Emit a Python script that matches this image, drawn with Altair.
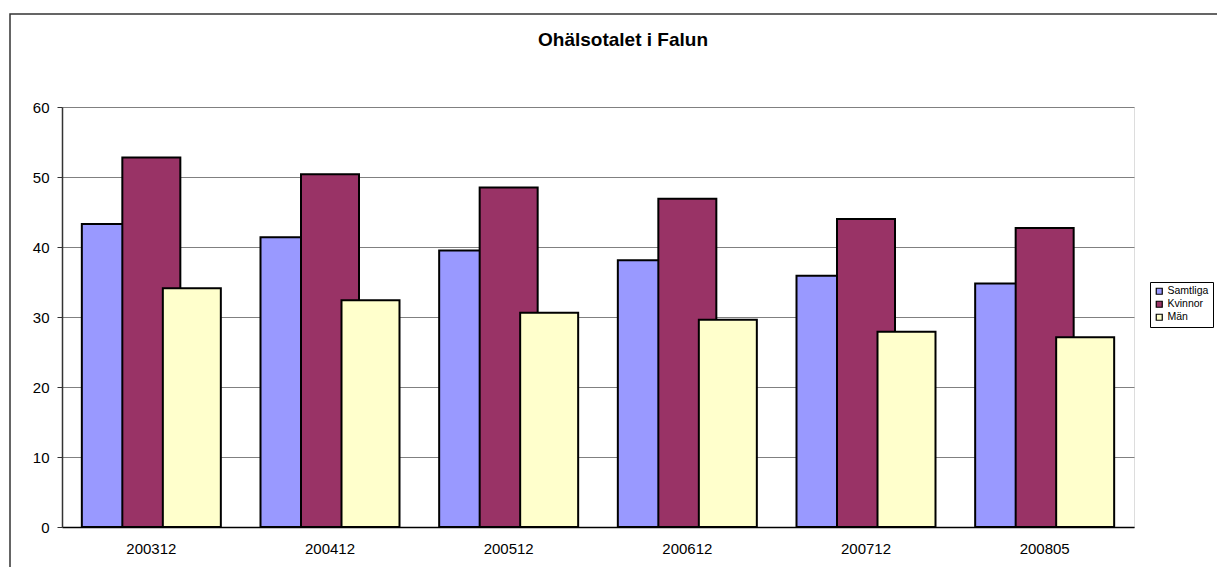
import altair as alt
import pandas as pd

periods = ["200312", "200412", "200512", "200612", "200712", "200805"]
series = ["Samtliga", "Kvinnor", "Män"]
samtliga = [43.3, 41.4, 39.5, 38.1, 35.9, 34.8]
kvinnor = [52.8, 50.4, 48.5, 46.9, 44.0, 42.7]
man = [34.1, 32.4, 30.6, 29.6, 27.9, 27.1]
colors = ["#9999FF", "#993366", "#FFFFCC"]

rows = []
for name, vals in zip(series, [samtliga, kvinnor, man]):
    for p, v in zip(periods, vals):
        rows.append({"period": p, "serie": name, "value": v})
df = pd.DataFrame(rows)

FONT = "Liberation Sans"

base = alt.Chart(df)

color = alt.Color(
    "serie:N",
    scale=alt.Scale(domain=series, range=colors),
    legend=alt.Legend(
        title=None, orient="none", legendX=1088, legendY=175,
        strokeColor="#000000", padding=4, symbolType="square",
        symbolSize=36, symbolStrokeColor="#000000", symbolStrokeWidth=1.2,
        labelFontSize=10.5, labelFont=FONT, labelColor="#000000",
        rowPadding=1, symbolOffset=0, labelOffset=3, fillColor="#FFFFFF",
    ),
)
x = alt.X(
    "period:N", sort=periods, title=None,
    scale=alt.Scale(paddingInner=0, paddingOuter=0),
    axis=alt.Axis(labelAngle=0, ticks=False, labelPadding=14, labelFontSize=15,
                  labelFont=FONT, labelColor="#000000", domainColor="#000000",
                  domainWidth=1.5),
)
y = alt.Y(
    "value:Q", title=None,
    scale=alt.Scale(domain=[0, 60], nice=False),
    axis=alt.Axis(values=[0, 10, 20, 30, 40, 50, 60], tickSize=5, tickColor="#333333",
                  labelPadding=8, labelFontSize=15, labelFont=FONT, labelColor="#000000",
                  domainColor="#333333", domainWidth=1.5, grid=True,
                  gridColor="#808080", gridWidth=1.2),
)

offsets = [-40.5, 0, 40.5]
layers = []
frame = base.mark_rect(fill=None, stroke="#333333", strokeWidth=1.5).encode(
    x=alt.value(-52), x2=alt.value(1300), y=alt.value(-93), y2=alt.value(600)
).transform_filter("datum.serie == 'Samtliga' && datum.period == '200312'")
layers.append(frame)
for s, off in zip(series, offsets):
    layers.append(
        base.transform_filter(alt.datum.serie == s)
        .mark_bar(width=58, xOffset=off, stroke="#000000", strokeWidth=2)
        .encode(x=x, y=y, color=color)
    )

chart = alt.layer(*layers).properties(
    width=1072, height=420,
    title=alt.TitleParams("Ohälsotalet i Falun", font=FONT, fontSize=19,
                          fontWeight="bold", color="#000000", anchor="middle",
                          dx=25, offset=-37),
    autosize=alt.AutoSizeParams(type="none"),
    padding={"left": 54, "top": 99, "right": 83, "bottom": 40},
).configure_view(stroke="#808080", strokeWidth=1.5).configure(background="#FFFFFF")

chart.save("out.html", embed_options={"renderer": "svg", "actions": False})
